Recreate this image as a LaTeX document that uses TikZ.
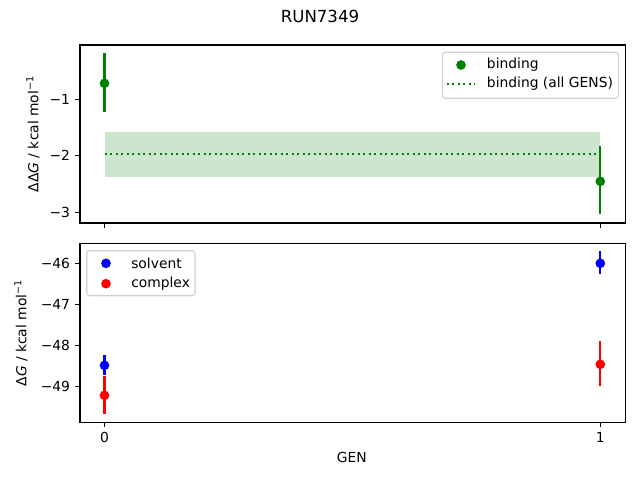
\documentclass[tikz,border=0pt]{standalone}
\usepackage{fontspec}
\setmainfont{DejaVu Sans}
\definecolor{mgreen}{rgb}{0,0.5,0}
\definecolor{bandgreen}{rgb}{0.8,0.9,0.8}
\definecolor{leggray}{gray}{0.82}
\tikzset{
  axisframe/.style={draw=black,line width=0.8pt},
  tickmark/.style={line width=0.8pt},
  errbar/.style={line width=1.5pt},
  marker/.style={circle,inner sep=0pt,minimum size=7pt},
  ticklabel/.style={font=\fontsize{10}{12}\selectfont,inner sep=0pt},
  legbox/.style={draw=leggray,fill=white,rounded corners=2pt,line width=0.8pt},
  dotline/.style={line width=1.5pt,dash pattern=on 1.5pt off 2.475pt},
}
\begin{document}
\begin{tikzpicture}[x=0.01in,y=-0.01in]
\useasboundingbox (0,0) rectangle (640,480);
% ---------- title ----------
\node[font=\fontsize{12}{14}\selectfont,inner sep=0pt] (title) at (320,16.3) {RUN7349};

% ---------- top axes ----------
\fill[bandgreen] (104.5,132.3) rectangle (600.3,177.3);
\draw[dotline,mgreen] (104.5,154) -- (600.3,154);
% point GEN 0
\coordinate (ta) at (104.5,53.3);
\coordinate (tb) at (104.5,111.7);
\draw[errbar,mgreen] (ta) -- (tb);
\node[marker,fill=mgreen] (bind0) at (104.5,83.3) {};
% point GEN 1
\coordinate (tc) at (600.3,146);
\coordinate (td) at (600.3,214.3);
\draw[errbar,mgreen] (tc) -- (td);
\node[marker,fill=mgreen] (bind1) at (600.3,181.3) {};
% frame
\draw[axisframe] (80,45) rectangle (625.5,223);
% y ticks
\foreach \y/\lab [count=\i] in {99.3/−1,155.8/−2,212.3/−3}{
  \draw[tickmark] (80,\y) -- (75.1,\y);
  \node[ticklabel,anchor=east] (tyl\i) at (70.3,\y) {\lab};
}
% x ticks
\foreach \x in {104.5,600.3}{
  \draw[tickmark] (\x,223) -- (\x,227.9);
}
\node[rotate=90,inner sep=0pt,font=\fontsize{10}{12}\selectfont] (ylabtop) at (33,134) {ΔΔ\textit{G} / kcal mol\textsuperscript{−1}};
% legend
\draw[legbox] (442.3,52.3) rectangle (618.3,98.3);
\node[marker,fill=mgreen] (legbind) at (461,65) {};
\node[ticklabel,anchor=west] (legbindt) at (486.7,65) {binding};
\coordinate (ld1) at (446.7,83.7);
\coordinate (ld2) at (474.3,83.7);
\draw[dotline,mgreen] (ld1) -- (ld2);
\node[ticklabel,anchor=west] (legallt) at (486.7,83.7) {binding (all GENS)};

% ---------- bottom axes ----------
% solvent GEN 0
\coordinate (sa) at (104.5,355);
\coordinate (sb) at (104.5,375.5);
\draw[errbar,blue] (sa) -- (sb);
\node[marker,fill=blue] (solv0) at (104.5,365.3) {};
% solvent GEN 1
\coordinate (sc) at (600.3,251);
\coordinate (sd) at (600.3,273.7);
\draw[errbar,blue] (sc) -- (sd);
\node[marker,fill=blue] (solv1) at (600.3,263.3) {};
% complex GEN 0
\coordinate (ca) at (104.5,376.5);
\coordinate (cb) at (104.5,413.7);
\draw[errbar,red] (ca) -- (cb);
\node[marker,fill=red] (comp0) at (104.5,395.3) {};
% complex GEN 1
\coordinate (cc) at (600.3,341);
\coordinate (cd) at (600.3,385.7);
\draw[errbar,red] (cc) -- (cd);
\node[marker,fill=red] (comp1) at (600.3,364.3) {};
% frame
\draw[axisframe] (80,243.5) rectangle (625.5,422.3);
% y ticks
\foreach \y/\lab [count=\i] in {263.3/−46,304.4/−47,345.5/−48,386.6/−49}{
  \draw[tickmark] (80,\y) -- (75.1,\y);
  \node[ticklabel,anchor=east] (byl\i) at (70.3,\y) {\lab};
}
% x ticks
\foreach \x/\lab [count=\i] in {104.5/0,600.3/1}{
  \draw[tickmark] (\x,422.3) -- (\x,427.2);
  \node[ticklabel,anchor=north] (bxl\i) at (\x,432.1) {\lab};
}
\node[inner sep=0pt,font=\fontsize{10}{12}\selectfont] (xlab) at (351.7,457.3) {GEN};
\node[rotate=90,inner sep=0pt,font=\fontsize{10}{12}\selectfont] (ylabbot) at (21,333) {Δ\textit{G} / kcal mol\textsuperscript{−1}};
% legend
\draw[legbox] (86.7,250.7) rectangle (195,295.7);
\node[marker,fill=blue] (legsolv) at (106,263.3) {};
\node[ticklabel,anchor=west] (legsolvt) at (131,263.3) {solvent};
\node[marker,fill=red] (legcomp) at (106,283.7) {};
\node[ticklabel,anchor=west] (legcompt) at (131,283.7) {complex};
\end{tikzpicture}
\end{document}
